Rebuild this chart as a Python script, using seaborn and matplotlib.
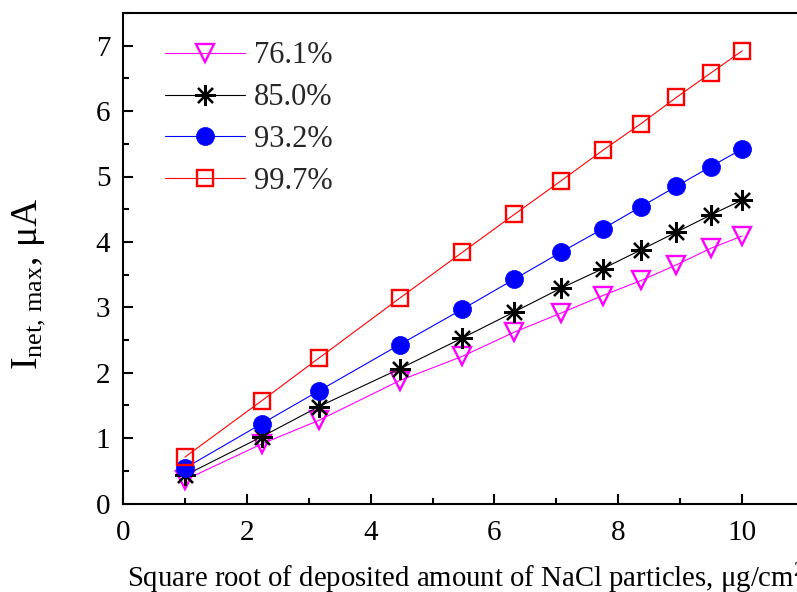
import matplotlib
matplotlib.use("Agg")
import matplotlib.pyplot as plt
import seaborn as sns
import numpy as np
import pandas as pd
from matplotlib.ticker import MultipleLocator

sns.set_theme(style="ticks")
plt.rcParams['font.family'] = ['Liberation Serif', 'DejaVu Serif']
plt.rcParams['mathtext.fontset'] = 'custom'
plt.rcParams['mathtext.rm'] = 'Liberation Serif'
plt.rcParams['mathtext.it'] = 'Liberation Serif:italic'

x_vals = [1.0, 2.24, 3.16, 4.47, 5.48, 6.32, 7.07, 7.75, 8.37, 8.94, 9.49, 10.0]
rh_labels = ["76.1%", "85.0%", "93.2%", "99.7%"]
y_761 = [0.36, 0.91, 1.27, 1.88, 2.25, 2.62, 2.91, 3.18, 3.41, 3.65, 3.90, 4.09]
y_850 = [0.43, 1.02, 1.48, 2.06, 2.53, 2.93, 3.29, 3.59, 3.88, 4.15, 4.41, 4.64]
y_932 = [0.54, 1.22, 1.72, 2.43, 2.97, 3.43, 3.84, 4.20, 4.54, 4.85, 5.15, 5.42]
y_997 = [0.71, 1.57, 2.22, 3.14, 3.84, 4.42, 4.93, 5.40, 5.81, 6.21, 6.58, 6.92]
x_ticks = [0, 2, 4, 6, 8, 10]
y_ticks = [0, 1, 2, 3, 4, 5, 6, 7]

series = [y_761, y_850, y_932, y_997]
styles = [
    dict(color="#FF00FF", marker="v", markersize=13, markerfacecolor="none",
         markeredgecolor="#FF00FF", markeredgewidth=1.7),
    dict(color="black", marker=(8, 2, 0), markersize=15, markerfacecolor="black",
         markeredgecolor="black", markeredgewidth=1.6),
    dict(color="#0000FF", marker="o", markersize=13, markerfacecolor="#0000FF",
         markeredgecolor="#0000FF", markeredgewidth=0.5),
    dict(color="#FF0000", marker="s", markersize=12, markerfacecolor="none",
         markeredgecolor="#FF0000", markeredgewidth=1.7),
]

fig = plt.figure(figsize=(7.97, 5.92), dpi=100)
ax = fig.add_axes([123/797, (592-503.5)/592, 681/797, 490.5/592])

for lab, ys, st in zip(rh_labels, series, styles):
    df = pd.DataFrame({"x": x_vals, "y": ys})
    sns.lineplot(data=df, x="x", y="y", ax=ax, label=lab, linewidth=0.8,
                 errorbar=None, sort=False, **st)

ax.set_xlim(0, 11)
ax.set_ylim(0, 7.5)
ax.set_xticks(x_ticks)
ax.set_yticks(y_ticks)
ax.xaxis.set_minor_locator(MultipleLocator(1))
ax.yaxis.set_minor_locator(MultipleLocator(0.5))
ax.tick_params(which='both', direction='in', top=False, right=False,
               width=1.5, labelsize=21, colors='black')
ax.tick_params(which='major', length=7)
ax.tick_params(axis='y', which='major', pad=9)
ax.tick_params(axis='x', which='major', pad=12)
ax.tick_params(which='minor', length=4)
for sp in ax.spines.values():
    sp.set_linewidth(1.5)
    sp.set_color('black')
ax.spines['right'].set_visible(False)
ax.set_xlabel("")
ax.set_ylabel("")

fig.text(127/797, 1 - 587/592,
         "Square root of deposited amount of NaCl particles, μg/cm$^2$",
         fontsize=20.7, color='black', ha='left', va='baseline')
fig.text(11/797, 1 - 284/592, r"$\mathregular{I_{net,\,max}}$, μA",
         fontsize=27, color='black', rotation=90, ha='left', va='center')

leg = ax.legend(loc="upper left", bbox_to_anchor=(0.062, 0.942), frameon=False,
                fontsize=22, handlelength=2.6, handletextpad=0.3,
                labelspacing=0.42, borderaxespad=0, borderpad=0)

fig.savefig("out.png", dpi=100)
